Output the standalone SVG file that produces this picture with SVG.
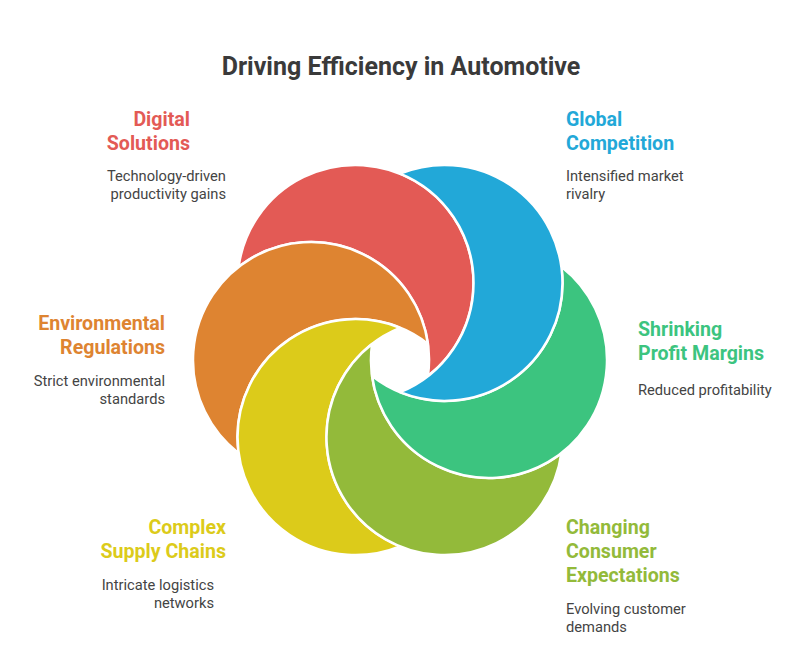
<svg xmlns="http://www.w3.org/2000/svg" width="804" height="651" viewBox="0 0 804 651">
<style>
.p{stroke:#fff;stroke-width:2.5;stroke-linejoin:round}
.t{font-family:Roboto,"Liberation Sans",sans-serif;font-weight:bold;font-size:19.6px}
.d{font-family:Roboto,"Liberation Sans",sans-serif;font-size:14.7px;fill:#444}
.r{text-anchor:end}
</style>
<rect width="804" height="651" fill="#fff"/>
<text x="401" y="75" text-anchor="middle" style="font-family:Roboto,'Liberation Sans',sans-serif;font-weight:bold;font-size:25px;fill:#3a3a3a">Driving Efficiency in Automotive</text>
<g id="petals">
<g id="digital"><path class="p" fill="#E35A55" d="M238.6,266.8 A118,118 0 1 1 427.9,376.1 A118,118 0 0 0 238.6,266.8 Z"/></g>
<g id="environmental"><path class="p" fill="#DE8431" d="M238.6,453.2 A118,118 0 1 1 427.9,343.9 A118,118 0 0 0 238.6,453.2 Z"/></g>
<g id="complex"><path class="p" fill="#DCCB1A" d="M400,546.4 A118,118 0 1 1 400,327.8 A118,118 0 0 0 400,546.4 Z"/></g>
<g id="changing"><path class="p" fill="#93BA3A" d="M561.4,453.2 A118,118 0 1 1 372.1,343.9 A118,118 0 0 0 561.4,453.2 Z"/></g>
<g id="shrinking"><path class="p" fill="#3CC47F" d="M561.4,266.8 A118,118 0 1 1 372.1,376.1 A118,118 0 0 0 561.4,266.8 Z"/></g>
<g id="global"><path class="p" fill="#22A8D8" d="M400,173.6 A118,118 0 1 1 400,392.2 A118,118 0 0 0 400,173.6 Z"/></g>
</g>
<g id="labels">
<text class="t r" fill="#E35A55" x="190" y="126">Digital</text>
<text class="t r" fill="#E35A55" x="190" y="150">Solutions</text>
<text class="d r" x="226" y="181">Technology-driven</text>
<text class="d r" x="226" y="199">productivity gains</text>
<text class="t" fill="#22A8D8" x="566" y="126">Global</text>
<text class="t" fill="#22A8D8" x="566" y="150">Competition</text>
<text class="d" x="566" y="181">Intensified market</text>
<text class="d" x="566" y="199">rivalry</text>
<text class="t r" fill="#DE8431" x="165" y="330">Environmental</text>
<text class="t r" fill="#DE8431" x="165" y="354">Regulations</text>
<text class="d r" x="165" y="386">Strict environmental</text>
<text class="d r" x="165" y="404">standards</text>
<text class="t" fill="#3CC47F" x="638" y="336">Shrinking</text>
<text class="t" fill="#3CC47F" x="638" y="360">Profit Margins</text>
<text class="d" x="638" y="395">Reduced profitability</text>
<text class="t r" fill="#DCCB1A" x="226" y="534">Complex</text>
<text class="t r" fill="#DCCB1A" x="226" y="558">Supply Chains</text>
<text class="d r" x="214" y="590">Intricate logistics</text>
<text class="d r" x="214" y="608">networks</text>
<text class="t" fill="#93BA3A" x="566" y="534">Changing</text>
<text class="t" fill="#93BA3A" x="566" y="558">Consumer</text>
<text class="t" fill="#93BA3A" x="566" y="582">Expectations</text>
<text class="d" x="566" y="614">Evolving customer</text>
<text class="d" x="566" y="632">demands</text>
</g>
</svg>
